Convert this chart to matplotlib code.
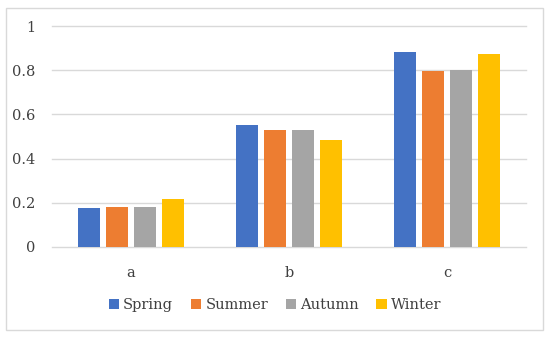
import matplotlib
matplotlib.use("Agg")
import matplotlib.pyplot as plt
import numpy as np
from matplotlib.patches import Rectangle

categories = ["a", "b", "c"]
series = ["Spring", "Summer", "Autumn", "Winter"]
spring = [0.176, 0.552, 0.881]
summer = [0.180, 0.529, 0.798]
autumn = [0.180, 0.530, 0.802]
winter = [0.217, 0.484, 0.873]
yticks = [0, 0.2, 0.4, 0.6, 0.8, 1]
yticklabels = ["0", "0.2", "0.4", "0.6", "0.8", "1"]

colors = ["#4472C4", "#ED7D31", "#A5A5A5", "#FFC000"]
values = [spring, summer, autumn, winter]

plt.rcParams['font.family'] = ['DejaVu Serif']

fig = plt.figure(figsize=(5.5, 3.39), dpi=100)
fig.patches.append(Rectangle((6/550, 1-330/339), (543-6)/550, (330-8)/339,
                             transform=fig.transFigure, fill=False,
                             edgecolor="#D9D9D9", linewidth=1.0))
ax = fig.add_axes([52/550, 1-247/339, (526-52)/550, (247-26)/339])

x = np.arange(len(categories))
step = 28/158
bw = 22/158
for i, (name, vals) in enumerate(zip(series, values)):
    ax.bar(x + (i - 1.5) * step, vals, width=bw, color=colors[i], label=name, zorder=3)

ax.set_xlim(-0.5, 2.5)
ax.set_ylim(0, 1)
ax.set_yticks(yticks)
ax.set_yticklabels(yticklabels, fontsize=10.5, color="#404040")
ax.set_xticks(x)
ax.set_xticklabels(categories, fontsize=10.5, color="#404040")
ax.tick_params(axis="both", length=0)
ax.tick_params(axis="y", pad=12)
ax.tick_params(axis="x", pad=14)
for s in ax.spines.values():
    s.set_visible(False)
for yv in yticks:
    ax.axhline(yv, color="#D9D9D9", linewidth=1.0, zorder=0, clip_on=False)

leg = fig.legend(loc="center", bbox_to_anchor=(0.5, 1-305/339), ncol=4, frameon=False,
                 fontsize=10.5, handlelength=0.7, handleheight=0.7, handletextpad=0.3,
                 columnspacing=1.2)
for t in leg.get_texts():
    t.set_color("#404040")

fig.savefig("out.png", dpi=100)
